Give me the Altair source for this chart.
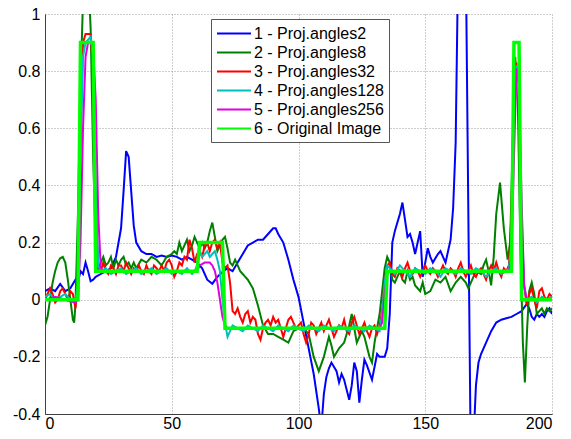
import altair as alt
import pandas as pd

LABELS = ["1 - Proj.angles2", "2 - Proj.angles8", "3 - Proj.angles32",
          "4 - Proj.angles128", "5 - Proj.angles256", "6 - Original Image"]
COLORS = ["#0000ff", "#008000", "#ff0000", "#00bfbf", "#e000e0", "#00ff00"]
WIDTHS = [2, 2, 2, 2, 2, 3.5]

X_TICKS = [0, 50, 100, 150, 200]
Y_TICKS = [-0.4, -0.2, 0, 0.2, 0.4, 0.6, 0.8, 1]

BLUE = [(0,0.03),(2,0.04),(4,0.03),(6,0.055),(8,0.03),(10,0.04),(12,0.07),(13,0.06),(14,0.1),(15,0.09),
        (16,0.13),(17,0.1),(18,0.065),(19,0.07),(20,0.08),(22,0.09),(24,0.1),(26,0.11),(28,0.15),(30,0.25),
        (31,0.38),(32,0.52),(33,0.5),(34,0.38),(35,0.26),(36,0.2),(38,0.17),(40,0.16),(42,0.16),(44,0.15),
        (46,0.155),(48,0.15),(50,0.155),(52,0.15),(54,0.14),(56,0.15),(58,0.14),(60,0.13),(62,0.11),(64,0.07),
        (66,0.056),(68,0.08),(70,0.097),(72,0.11),(74,0.1),(76,0.13),(78,0.16),(80,0.19),(82,0.2),(84,0.21),
        (86,0.21),(88,0.23),(90,0.25),(91,0.25),(92,0.23),(94,0.2),(96,0.14),(98,0.07),(100,0.01),(102,-0.08),
        (104,-0.17),(106,-0.26),(108,-0.38),(109,-0.45),(110,-0.33),(111,-0.27),(112,-0.24),(113,-0.22),(115,-0.25),
        (116,-0.29),(117,-0.26),(118,-0.28),(120,-0.35),(121,-0.3),(122,-0.22),(123,-0.25),(124,-0.36),(125,-0.28),
        (126,-0.21),(127,-0.23),(129,-0.28),(131,-0.19),(132,-0.2),(134,-0.2),(135,-0.17),(136,-0.05),(137,0.2),
        (138,0.24),(139,0.27),(140,0.3),(141,0.34),(142,0.28),(143,0.22),(144,0.23),(145,0.2),(146,0.16),
        (147,0.2),(148,0.24),(149,0.08),(150,0.13),(151,0.18),(152,0.15),(153,0.13),(155,0.16),(156,0.17),
        (158,0.13),(160,0.21),(161,0.32),(162,0.55),(163,1.2),(164,1.6),(165,1.5),(166,1.2),(167,0.3),
        (168,-0.6),(169,-0.5),(170,-0.3),(171,-0.22),(172,-0.19),(174,-0.15),(176,-0.11),(178,-0.08),(180,-0.07),
        (182,-0.065),(184,-0.06),(186,-0.05),(188,-0.04),(190,-0.015),(191,-0.03),(192,-0.06),(193,-0.07),
        (194,-0.05),(195,-0.06),(196,-0.05),(197,-0.06),(198,-0.04),(199,-0.03),(200,-0.05)]

DGREEN = [(0,-0.09),(1,-0.06),(2,0.0),(3,0.06),(4,0.1),(5,0.13),(6,0.145),(7,0.15),(8,0.13),(9,0.07),
          (10,0.0),(11,-0.07),(11.5,-0.08),(12,-0.02),(13,0.3),(14,0.75),(15,1.05),(16,1.2),(17,1.15),(18,0.95),
          (19,0.5),(20,0.2),(21,0.1),(22,0.13),(23,0.15),(24,0.12),(25,0.13),(26,0.15),(27,0.11),(28,0.14),
          (29,0.12),(30,0.14),(31,0.15),(32,0.12),(33,0.13),(34,0.11),(35,0.13),(36,0.11),(38,0.14),(40,0.13),
          (42,0.15),(44,0.14),(46,0.12),(48,0.15),(50,0.16),(51,0.17),(52,0.16),(53,0.2),(54,0.17),(55,0.19),
          (56,0.21),(57,0.17),(58,0.19),(59,0.22),(60,0.2),(61,0.18),(62,0.2),(63,0.18),(64,0.2),(65,0.24),
          (66,0.27),(67,0.22),(68,0.17),(69,0.19),(70,0.21),(71,0.22),(72,0.18),(73,0.13),(74,0.12),(75,0.14),
          (76,0.12),(77,0.1),(78,0.09),(79,0.08),(80,0.07),(82,0.04),(84,-0.02),(86,-0.09),(88,-0.12),(90,-0.12),
          (92,-0.13),(94,-0.14),(96,-0.15),(98,-0.11),(100,-0.1),(102,-0.1),(104,-0.12),(106,-0.2),(108,-0.25),
          (110,-0.2),(112,-0.13),(113,-0.16),(114,-0.2),(116,-0.17),(118,-0.15),(120,-0.09),(121,-0.05),(122,-0.1),
          (123,-0.15),(124,-0.13),(125,-0.11),(126,-0.13),(128,-0.2),(129,-0.22),(130,-0.15),(131,-0.1),(132,-0.05),
          (133,0.03),(134,0.11),(135,0.15),(136,0.13),(137,0.07),(138,0.06),(139,0.08),(140,0.1),(141,0.07),
          (142,0.06),(143,0.1),(144,0.07),(145,0.08),(146,0.05),(147,0.04),(148,0.03),(149,0.06),(150,0.02),
          (152,0.03),(154,0.07),(156,0.06),(158,0.08),(160,0.03),(162,0.06),(164,0.08),(166,0.06),(167,0.04),
          (168,0.06),(170,0.1),(172,0.09),(173,0.12),(174,0.14),(175,0.1),(176,0.05),(177,0.15),(178,0.3),
          (179.5,0.41),(181,0.25),(182.5,0.14),(183.5,0.2),(184.5,0.55),(185.5,0.85),(186.5,0.7),(187.5,0.2),
          (188.5,-0.15),(189.3,-0.29),(190.2,-0.1),(191,0.03),(192,0.06),(193,0.02),(194,-0.05),(195,-0.04),
          (196,-0.03),(197,-0.05),(198,-0.03),(199,-0.04),(200,-0.03)]

RED = [(0,0.0),(1,0.02),(2,0.04),(3,0.02),(4,-0.01),(5,0.0),(6,0.03),(7,0.04),(8,0.02),(9,0.0),
       (10,0.03),(11,0.02),(12,-0.03),(13,0.05),(14,0.6),(15,0.9),(16,0.93),(17,0.93),(18,0.93),(19,0.8),
       (20,0.3),(21,0.12),(22,0.1),(23,0.13),(24,0.1),(25,0.09),(26,0.12),(27,0.11),(28,0.09),(29,0.12),
       (30,0.12),(31,0.1),(32,0.13),(33,0.11),(34,0.09),(35,0.11),(36,0.1),(37,0.12),(38,0.1),(39,0.09),
       (40,0.12),(41,0.1),(42,0.09),(43,0.12),(44,0.11),(45,0.1),(46,0.12),(47,0.1),(48,0.13),(49,0.14),
       (50,0.12),(51,0.08),(52,0.1),(53,0.13),(54,0.12),(55,0.15),(56,0.14),(57,0.21),(58,0.18),(59,0.13),
       (60,0.16),(61,0.17),(62,0.15),(63,0.19),(64,0.2),(65,0.17),(66,0.2),(67,0.21),(68,0.18),(69,0.2),
       (70,0.13),(71,0.11),(72,0.12),(73,0.06),(74,-0.04),(75,-0.05),(76,-0.03),(77,-0.06),(78,-0.08),(79,-0.05),
       (80,-0.04),(81,-0.08),(82,-0.06),(83,-0.07),(84,-0.12),(85,-0.14),(86,-0.1),(87,-0.08),(88,-0.07),(89,-0.09),
       (90,-0.06),(91,-0.08),(92,-0.07),(93,-0.1),(94,-0.13),(95,-0.1),(96,-0.07),(97,-0.06),(98,-0.08),(99,-0.1),
       (100,-0.09),(101,-0.08),(102,-0.12),(103,-0.15),(104,-0.12),(105,-0.08),(106,-0.09),(107,-0.12),(108,-0.1),
       (109,-0.08),(110,-0.11),(111,-0.09),(112,-0.07),(113,-0.1),(114,-0.13),(115,-0.11),(116,-0.09),(117,-0.1),
       (118,-0.07),(119,-0.11),(120,-0.12),(121,-0.08),(122,-0.06),(123,-0.09),(124,-0.12),(125,-0.1),(126,-0.08),
       (127,-0.11),(128,-0.13),(129,-0.1),(130,-0.09),(131,-0.12),(132,-0.09),(133,-0.04),(134,0.06),(135,0.12),
       (136,0.13),(137,0.09),(138,0.08),(139,0.11),(140,0.1),(141,0.08),(142,0.11),(143,0.13),(144,0.1),
       (145,0.09),(146,0.11),(147,0.1),(148,0.08),(149,0.1),(150,0.12),(151,0.1),(152,0.09),(153,0.11),
       (154,0.1),(155,0.08),(156,0.1),(157,0.12),(158,0.1),(159,0.09),(160,0.11),(161,0.1),(162,0.08),
       (163,0.11),(164,0.13),(165,0.1),(166,0.08),(167,0.1),(168,0.12),(169,0.09),(170,0.08),(171,0.1),
       (172,0.11),(173,0.09),(174,0.07),(175,0.1),(176,0.12),(177,0.1),(178,0.13),(179,0.1),(180,0.08),
       (181,0.11),(182,0.1),(183,0.12),(184,0.3),(185,0.75),(186,0.83),(187,0.6),(188,0.25),(189,0.05),
       (190,-0.02),(191,0.02),(192,0.04),(193,0.0),(194,-0.03),(195,0.03),(196,0.04),(197,0.01),(198,0.0),
       (199,0.02),(200,0.01)]

CYAN = [(0,0.01),(2,0.02),(4,0.0),(6,0.01),(8,0.02),(10,0.0),(12,0.0),(13,0.05),(14,0.5),(15,0.85),
        (16,0.9),(17,0.91),(18,0.92),(19,0.85),(20,0.4),(21,0.12),(22,0.1),(24,0.11),(26,0.09),(28,0.1),
        (30,0.11),(32,0.09),(34,0.1),(36,0.11),(38,0.09),(40,0.1),(42,0.11),(44,0.09),(46,0.1),(48,0.11),
        (50,0.09),(52,0.1),(54,0.09),(56,0.11),(58,0.09),(59,0.1),(60,0.12),(61,0.17),(62,0.15),(63,0.16),
        (64,0.17),(65,0.15),(66,0.16),(67,0.17),(68,0.14),(69,0.1),(70,0.0),(71,-0.08),(72,-0.13),(73,-0.11),
        (74,-0.09),(76,-0.1),(78,-0.11),(80,-0.09),(82,-0.1),(84,-0.11),(86,-0.09),(88,-0.1),(90,-0.11),
        (92,-0.09),(94,-0.1),(96,-0.11),(98,-0.09),(100,-0.1),(102,-0.11),(104,-0.09),(106,-0.1),(108,-0.11),
        (110,-0.09),(112,-0.1),(114,-0.11),(116,-0.09),(118,-0.1),(120,-0.11),(122,-0.09),(124,-0.1),(126,-0.11),
        (128,-0.09),(130,-0.1),(132,-0.11),(133,-0.05),(134,0.06),(135,0.12),(136,0.11),(138,0.09),(140,0.12),
        (142,0.1),(144,0.08),(146,0.11),(148,0.1),(150,0.09),(152,0.11),(154,0.1),(156,0.08),(158,0.11),
        (160,0.1),(162,0.09),(164,0.11),(166,0.1),(168,0.09),(170,0.11),(172,0.1),(174,0.08),(176,0.1),
        (178,0.11),(180,0.09),(182,0.1),(183,0.11),(184,0.2),(185,0.65),(186,0.82),(187,0.7),(188,0.3),
        (189,0.05),(190,0.0),(192,0.01),(194,-0.01),(196,0.01),(198,0.0),(200,0.01)]

MAGENTA = [(0,0.0),(4,0.01),(8,0.0),(12,-0.01),(13,0.0),(14,0.2),(15,0.6),(16,0.85),(17,0.9),(18,0.9),
           (19,0.88),(20,0.7),(21,0.3),(22,0.11),(23,0.1),(30,0.1),(40,0.1),(50,0.1),(60,0.1),(61,0.12),
           (63,0.13),(65,0.13),(66,0.12),(67,0.1),(68,0.06),(69,0.0),(70,-0.06),(71,-0.09),(72,-0.1),
           (90,-0.1),(110,-0.1),(132,-0.1),(133,-0.08),(134,0.02),(135,0.09),(136,0.1),(160,0.1),(183,0.1),
           (184,0.15),(185,0.5),(186,0.81),(187,0.75),(188,0.35),(189,0.05),(190,0.0),(200,0.0)]

ORIG = [(0,0.0),(13,0.0),(14,0.9),(19,0.9),(20,0.1),(60,0.1),(61,0.2),(70,0.2),(71,-0.1),(134,-0.1),
        (135,0.1),(184,0.1),(185,0.9),(187,0.9),(188,0.0),(200,0.0)]

SERIES = [BLUE, DGREEN, RED, CYAN, MAGENTA, ORIG]

rows = []
for name, pts in zip(LABELS, SERIES):
    for i, (x, y) in enumerate(pts):
        rows.append({"series": name, "x": x, "y": y, "i": i})
df = pd.DataFrame(rows)

color = alt.Color(
    "series:N",
    scale=alt.Scale(domain=LABELS, range=COLORS),
    legend=alt.Legend(
        title=None, orient="none", legendX=166, legendY=5, direction="vertical",
        symbolType="M-1,0L3,0", symbolSize=289, symbolStrokeWidth=2,
        labelOffset=19, labelFont="Liberation Sans", labelFontSize=16, labelColor="black",
        labelLimit=0, strokeColor="#555555", fillColor="white", padding=5, rowPadding=1,
    ),
)

y_label = ("abs(datum.value) < 1e-9 ? '0' : abs(datum.value - 1) < 1e-9 ? '1' : "
           "(datum.value < 0 ? '-' : '') + format(abs(datum.value), '.1f')")

layers = []
for name, w in zip(LABELS, WIDTHS):
    layers.append(
        alt.Chart(df)
        .transform_filter(alt.datum.series == name)
        .mark_line(strokeWidth=w, clip=True)
        .encode(
            x=alt.X("x:Q", scale=alt.Scale(domain=[0, 200], nice=False),
                    axis=alt.Axis(values=X_TICKS, title=None, format="d",
                                  labelBaseline="alphabetic", labelPadding=14)),
            y=alt.Y("y:Q", scale=alt.Scale(domain=[-0.4, 1], nice=False),
                    axis=alt.Axis(values=Y_TICKS, title=None, labelExpr=y_label, labelPadding=5)),
            color=color,
            order="i:Q",
        )
    )

chart = (
    alt.layer(*layers)
    .properties(width=507, height=400, autosize=alt.AutoSizeParams(type="none"),
                padding={"left": 37, "top": 6, "right": 11, "bottom": 17})
    .configure_view(stroke=None)
    .configure_axis(
        grid=True, gridDash=[1, 2], gridColor="#9a9a9a", gridWidth=1,
        domainColor="#404040", domainWidth=1, ticks=False,
        labelFont="Liberation Sans", labelFontSize=16, labelColor="black",
    )
)

chart.save("out.html", embed_options={"renderer": "svg", "actions": False})
